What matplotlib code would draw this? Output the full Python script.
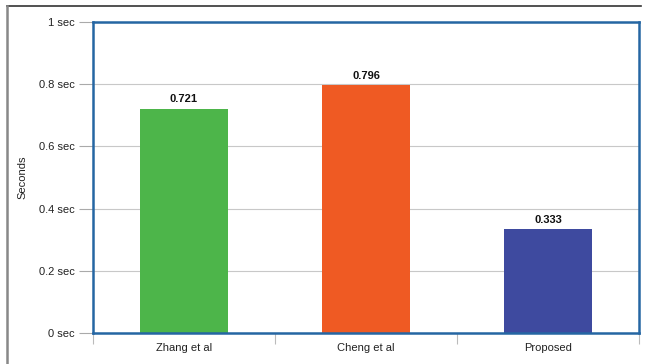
import matplotlib
matplotlib.use("Agg")
import matplotlib.pyplot as plt
from matplotlib.lines import Line2D
import numpy as np

categories = ["Zhang et al", "Cheng et al", "Proposed"]
values = [0.721, 0.796, 0.333]
value_labels = ["0.721", "0.796", "0.333"]
colors = ["#4db54a", "#ef5a23", "#3e4a9f"]
yticks = [0, 0.2, 0.4, 0.6, 0.8, 1.0]
ytick_labels = ["0 sec", "0.2 sec", "0.4 sec", "0.6 sec", "0.8 sec", "1 sec"]

plt.rcParams['font.family'] = ['Liberation Sans', 'DejaVu Sans']

fig = plt.figure(figsize=(6.45, 3.64), dpi=100)
W, H = 645, 364
ax = fig.add_axes([93 / W, 1 - 333 / H, (639 - 93) / W, (333 - 22) / H])

x = np.arange(len(categories))
ax.bar(x, values, width=0.48, color=colors, zorder=3)
for xi, v, lab in zip(x, values, value_labels):
    ax.text(xi, v + 0.015, lab, ha="center", va="bottom", fontsize=8,
            fontweight="bold", color="#111111")

ax.set_xlim(-0.5, len(categories) - 0.5)
ax.set_ylim(0, 1)
ax.set_yticks(yticks)
ax.set_yticklabels(ytick_labels, fontsize=8, color="#222222")
ax.set_xticks(x)
ax.set_xticklabels(categories, fontsize=8, color="#222222")
ax.tick_params(axis="x", length=0, pad=7)
ax.tick_params(axis="y", length=10, width=0.8, color="#aaaaaa", pad=3)
# minor ticks at category boundaries
ax.set_xticks(np.arange(-0.5, len(categories), 1.0), minor=True)
ax.tick_params(axis="x", which="minor", length=8, width=0.8, color="#bbbbbb")

ax.grid(axis="y", color="#c8c8c8", linewidth=0.8, zorder=0)
for s in ax.spines.values():
    s.set_color("#2566a3")
    s.set_linewidth(1.8)
    s.set_zorder(4)

ax.set_ylabel("Seconds", fontsize=8, color="#222222")
ax.yaxis.set_label_coords(-(93 - 27) / (639 - 93), 0.5)

# outer frame lines
fig.add_artist(Line2D([7 / W, 641 / W], [1 - 6 / H, 1 - 6 / H], color="#333333", linewidth=1.2))
fig.add_artist(Line2D([7 / W, 7 / W], [0, 1 - 6 / H], color="#888888", linewidth=1.8))

fig.savefig("out.png", dpi=100)
